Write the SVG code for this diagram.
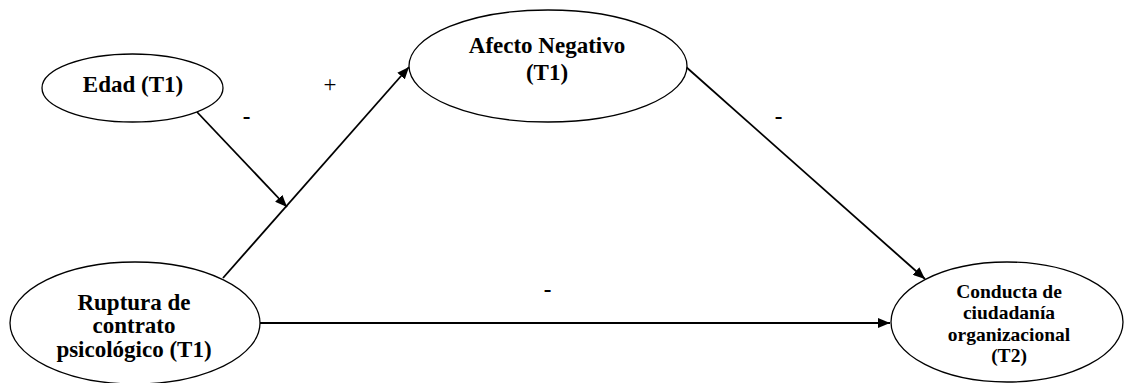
<svg xmlns="http://www.w3.org/2000/svg" width="1126" height="383" viewBox="0 0 1126 383">
<style>
.node{fill:#fff;stroke:#000;stroke-width:1.3}
.lbl{font-family:"Liberation Serif","Times New Roman",serif;font-weight:bold;font-size:23px;text-anchor:middle;fill:#000}
.sm{font-size:19.5px}
.sign{font-family:"Liberation Serif","Times New Roman",serif;font-size:23px;text-anchor:middle;fill:#000}
.edge{stroke:#000;stroke-width:1.8;fill:none;marker-end:url(#arr)}
</style>
<defs>
<marker id="arr" markerUnits="userSpaceOnUse" markerWidth="12" markerHeight="10" refX="12" refY="5" orient="auto">
<path d="M0,0 L12,5 L0,10 z" fill="#000"/>
</marker>
</defs>
<rect width="1126" height="383" fill="#fff"/>
<g id="connectors">
<line class="edge" x1="223" y1="278" x2="409" y2="67"/>
<line class="edge" x1="197" y1="112" x2="287" y2="207"/>
<line class="edge" x1="685" y1="66" x2="925" y2="279"/>
<line class="edge" x1="260" y1="323" x2="890" y2="323"/>
<text class="sign" x="330" y="92">+</text>
<text class="sign" x="246.5" y="124" font-weight="bold">-</text>
<text class="sign" x="778.5" y="124" font-weight="bold">-</text>
<text class="sign" x="547.5" y="297" font-weight="bold">-</text>
</g>
<g id="edad">
<ellipse class="node" cx="132.5" cy="88" rx="90.5" ry="34"/>
<text class="lbl" x="133" y="92">Edad (T1)</text>
</g>
<g id="afecto">
<ellipse class="node" cx="548" cy="66" rx="139" ry="56"/>
<text class="lbl" x="547" y="53">Afecto Negativo</text>
<text class="lbl" x="547" y="80">(T1)</text>
</g>
<g id="ruptura">
<ellipse class="node" cx="135" cy="323" rx="125" ry="61"/>
<text class="lbl" x="134" y="310">Ruptura de</text>
<text class="lbl" x="134" y="333">contrato</text>
<text class="lbl" x="134" y="357">psicológico (T1)</text>
</g>
<g id="conducta">
<ellipse class="node" cx="1007" cy="322" rx="116" ry="60"/>
<text class="lbl sm" x="1009" y="298">Conducta de</text>
<text class="lbl sm" x="1009" y="319">ciudadanía</text>
<text class="lbl sm" x="1009" y="341">organizacional</text>
<text class="lbl sm" x="1009" y="362">(T2)</text>
</g>
</svg>
